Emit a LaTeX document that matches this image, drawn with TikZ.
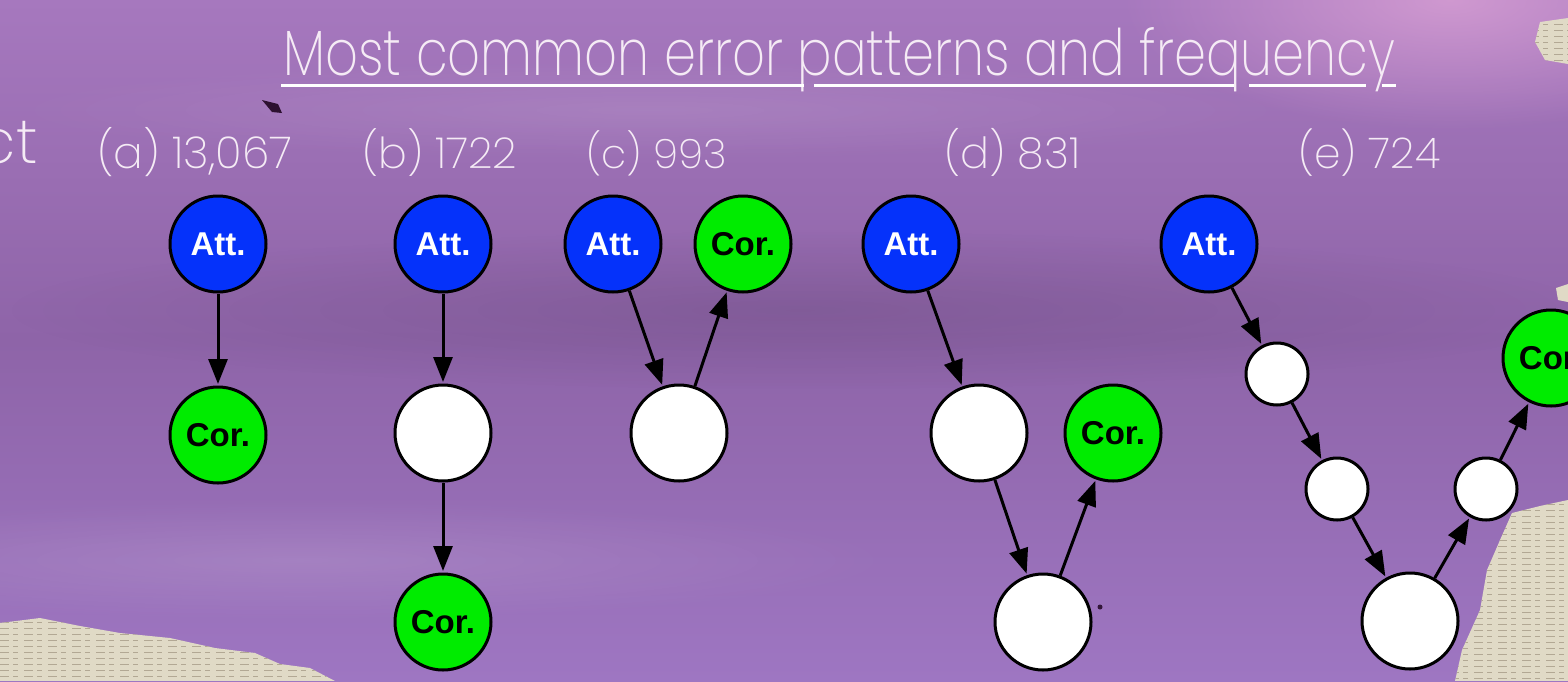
\documentclass[tikz,border=0pt]{standalone}
\usepackage{fontspec}
\usepackage{graphicx}
\usetikzlibrary{arrows.meta,fadings}

% Thin geometric face for the headings, Arial-metric face for the circle labels
\IfFontExistsTF{Poppins ExtraLight}
  {\newfontfamily\thinfont{Poppins ExtraLight}}
  {\IfFontExistsTF{Poppins Light}
     {\newfontfamily\thinfont{Poppins Light}}
     {\newfontfamily\thinfont{Poppins}}}
\newfontfamily\arialfont{Liberation Sans}

\tikzfading[name=softedge, inner color=transparent!0, outer color=transparent!100]

\definecolor{attblue}{RGB}{5,50,250}
\definecolor{corgreen}{RGB}{0,236,0}
\definecolor{washtop}{RGB}{166,120,190}
\definecolor{washmid}{RGB}{142,100,168}
\definecolor{washlow}{RGB}{158,118,194}
\definecolor{washpink}{RGB}{212,156,210}
\definecolor{paper}{RGB}{224,218,198}
\definecolor{paperink}{RGB}{178,168,148}

\tikzset{
  state/.style={circle, draw=black, line width=3pt, inner sep=0pt,
                minimum size=96pt, font=\arialfont\bfseries\fontsize{33}{33}\selectfont},
  att/.style={state, fill=attblue, text=white},
  cor/.style={state, fill=corgreen, text=black},
  blank/.style={state, fill=white},
  smallblank/.style={state, fill=white, minimum size=62pt},
  flow/.style={line width=3pt, shorten >=1.5pt, -{Triangle[length=25pt,width=19pt]}},
  caption/.style={text=white!92!violet, inner sep=0pt, anchor=base west},
  paperline/.style={paperink, line width=1pt, dash pattern=on 9pt off 4pt on 5pt off 6pt},
}

\begin{document}
\begin{tikzpicture}[x=1pt,y=-1pt]
\useasboundingbox (0,0) rectangle (1568,681);

% watercolour wash
\begin{scope}
  \clip (0,0) rectangle (1568,681);
  \shade[top color=washtop, bottom color=washmid] (0,0) rectangle (1568,340);
  \shade[top color=washmid, bottom color=washlow] (0,340) rectangle (1568,681);
  \fill[washpink, path fading=softedge, opacity=0.9] (1450,0) ellipse [x radius=330pt, y radius=130pt];
  \fill[white, path fading=softedge, opacity=0.12] (300,560) ellipse [x radius=600pt, y radius=60pt];
  \fill[white, path fading=softedge, opacity=0.10] (650,110) ellipse [x radius=650pt, y radius=50pt];
  \fill[black, path fading=softedge, opacity=0.10] (800,310) ellipse [x radius=800pt, y radius=80pt];
  % paper showing through at the edges
  \begin{scope}
    \clip (0,623) -- (40,618) -- (80,626) -- (120,633) -- (170,638)
       -- (215,648) -- (255,653) -- (280,664) -- (310,668) -- (335,681) -- (0,681) -- cycle;
    \fill[paper] (0,600) rectangle (340,681);
    \foreach \yy in {622,628,...,680} {\draw[paperline] (0,\yy) -- (340,\yy);}
  \end{scope}
  \begin{scope}
    \clip (1568,500) -- (1540,506) -- (1512,513) -- (1500,540) -- (1487,570)
       -- (1480,610) -- (1462,650) -- (1455,681) -- (1568,681) -- cycle;
    \fill[paper] (1450,495) rectangle (1568,681);
    \foreach \yy in {504,510,...,680} {\draw[paperline] (1450,\yy) -- (1568,\yy);}
  \end{scope}
  \begin{scope}
    \clip (1540,22) -- (1568,18) -- (1568,64) -- (1545,60) -- (1535,42) -- cycle;
    \fill[paper] (1530,15) rectangle (1568,70);
    \foreach \yy in {24,30,...,64} {\draw[paperline] (1530,\yy) -- (1568,\yy);}
  \end{scope}
  \fill[paper] (1556,288) -- (1568,284) -- (1568,302) -- (1558,300) -- cycle;
  % specks in the paint
  \fill[black!80!violet, opacity=0.85] (262,100) -- (278,104) -- (282,113) -- (272,112) -- cycle;
  \fill[black!80!violet, opacity=0.8] (1100,607) circle (2.5pt);
\end{scope}

% heading
\node[caption] (title) at (283,75)
  {\resizebox{1112pt}{48pt}{\thinfont Most common error patterns and frequency}};
\draw[white, line width=3pt] (281,85) -- (804,85);
\draw[white, line width=3pt] (814,85) -- (1234,85);
\draw[white, line width=3pt] (1249,85) -- (1366,85);
\draw[white, line width=3pt] (1382,85) -- (1396,85);

\node[caption, anchor=base east] (cut) at (38,163)
  {\thinfont\fontsize{62}{62}\selectfont ct};

% pattern captions
\node[caption] (la) at (97,168) {\resizebox{195pt}{!}{\thinfont (a) 13,067}};
\node[caption] (lb) at (362,168) {\resizebox{155pt}{!}{\thinfont (b) 1722}};
\node[caption] (lc) at (586,168) {\resizebox{141pt}{!}{\thinfont (c) 993}};
\node[caption] (ld) at (944,168) {\resizebox{136pt}{!}{\thinfont (d) 831}};
\node[caption] (le) at (1298,168) {\resizebox{142pt}{!}{\thinfont (e) 724}};

% (a)
\node[att] (a1) at (218,244) {Att.};
\node[cor] (a2) at (218,435) {Cor.};
\draw[flow] (a1) -- (a2);

% (b)
\node[att]   (b1) at (443,244) {Att.};
\node[blank] (b2) at (443,433) {};
\node[cor]   (b3) at (443,622) {Cor.};
\draw[flow] (b1) -- (b2);
\draw[flow] (b2) -- (b3);

% (c)
\node[att]   (c1) at (613,244) {Att.};
\node[cor]   (c3) at (743,244) {Cor.};
\node[blank] (c2) at (679,433) {};
\draw[flow] (c1) -- (c2);
\draw[flow] (c2) -- (c3);

% (d)
\node[att]   (d1) at (911,244) {Att.};
\node[blank] (d2) at (979,433) {};
\node[blank] (d3) at (1043,622) {};
\node[cor]   (d4) at (1113,433) {Cor.};
\draw[flow] (d1) -- (d2);
\draw[flow] (d2) -- (d3);
\draw[flow] (d3) -- (d4);

% (e)
\node[att]        (e1) at (1209,244) {Att.};
\node[smallblank] (e2) at (1277,374) {};
\node[smallblank] (e3) at (1337,489) {};
\node[blank]      (e4) at (1410,621) {};
\node[smallblank] (e5) at (1486,489) {};
\node[cor]        (e6) at (1551,358) {Cor.};
\draw[flow] (e1) -- (e2);
\draw[flow] (e2) -- (e3);
\draw[flow] (e3) -- (e4);
\draw[flow] (e4) -- (e5);
\draw[flow] (e5) -- (e6);
\end{tikzpicture}
\end{document}
